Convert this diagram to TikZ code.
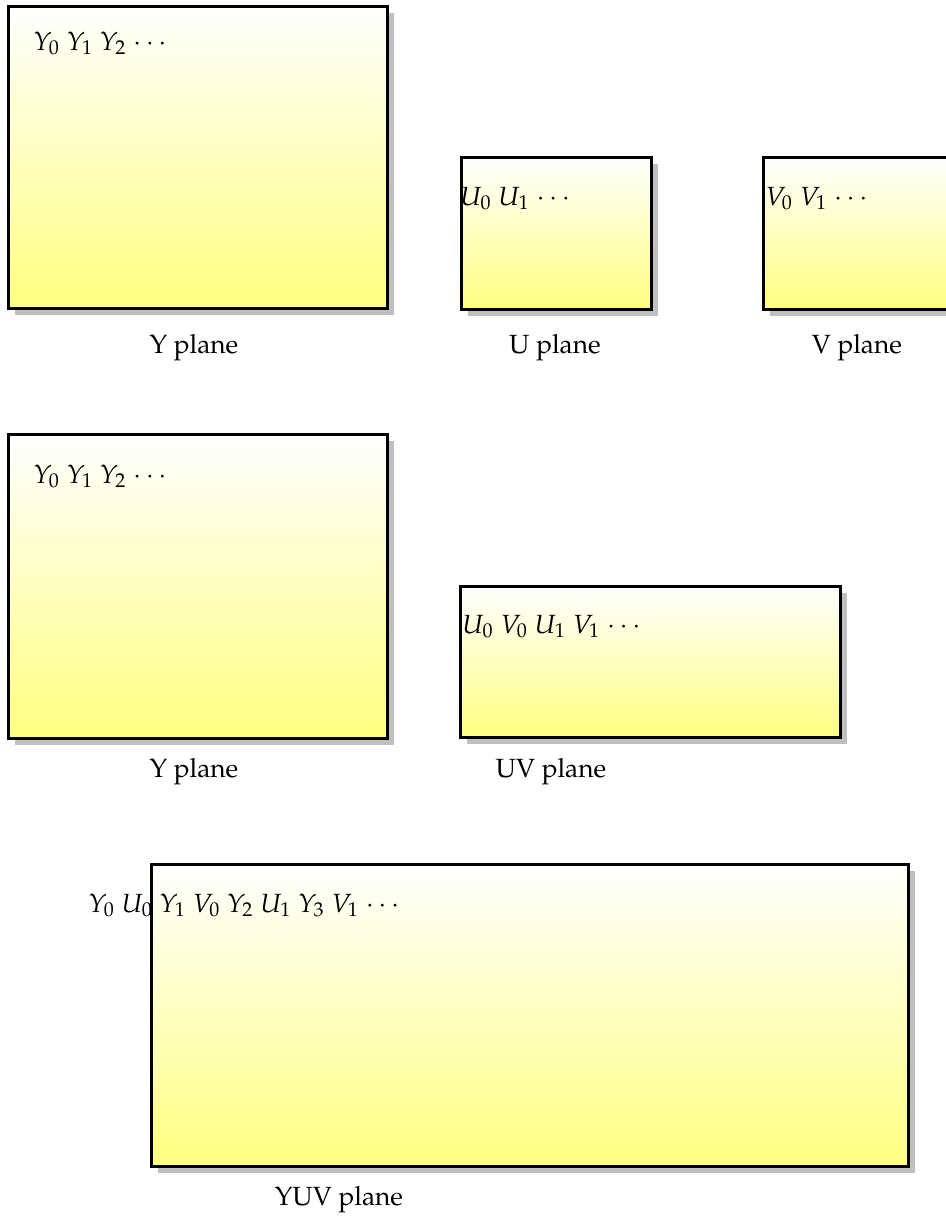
\documentclass[tikz,border=0pt]{standalone}
\usepackage[T1]{fontenc}
\usepackage{mathpazo}
\usepackage{tikz}
\usetikzlibrary{shadows}
\definecolor{planeYellow}{HTML}{FFFF80}
\definecolor{shadowGray}{HTML}{BFBFBF}

\begin{document}
\begin{tikzpicture}[x=0.38pt,y=-0.38pt,
    plane/.style={draw=black,line width=1.15pt,top color=white,bottom color=planeYellow,
      anchor=north west,inner sep=0pt,
      drop shadow={shadow xshift=2.5pt,shadow yshift=-2.5pt,fill=shadowGray,opacity=1}},
    sampletext/.style={anchor=base west,inner sep=0pt},
    caption/.style={anchor=base,inner sep=0pt}]
    \useasboundingbox (0,0) rectangle (946,1218);
    % planar: three planes
    \node[plane,minimum width=144pt,minimum height=114.8pt] (ybox) at (7,5) {};
    \node[plane,minimum width=72.2pt,minimum height=57.8pt] (ubox) at (460,156) {};
    \node[plane,minimum width=72.2pt,minimum height=57.8pt] (vbox) at (762,156) {};
    \node[sampletext] (ysamp) at (33,50) {$Y_0$ $Y_1$ $Y_2$ $\cdots$};
    \node[sampletext] (usamp) at (460,205) {$U_0$ $U_1$ $\cdots$};
    \node[sampletext] (vsamp) at (765,205) {$V_0$ $V_1$ $\cdots$};
    \node[caption] (ycap) at (194,353) {Y plane};
    \node[caption] (ucap) at (555,353) {U plane};
    \node[caption] (vcap) at (857,353) {V plane};
    % semi-planar
    \node[plane,minimum width=144pt,minimum height=115.5pt] (ybox2) at (7,433) {};
    \node[plane,minimum width=144.4pt,minimum height=57.4pt] (uvbox) at (459,585) {};
    \node[sampletext] (ysamp2) at (33,483) {$Y_0$ $Y_1$ $Y_2$ $\cdots$};
    \node[sampletext] (uvsamp) at (462,633) {$U_0$ $V_0$ $U_1$ $V_1$ $\cdots$};
    \node[caption] (ycap2) at (194,777) {Y plane};
    \node[caption] (uvcap) at (551,777) {UV plane};
    % packed
    \node[plane,minimum width=287.7pt,minimum height=114.8pt] (yuvbox) at (150,863) {};
    \node[sampletext] (yuvsamp) at (88,912)
      {$Y_0$ $U_0$ $Y_1$ $V_0$ $Y_2$ $U_1$ $Y_3$ $V_1$ $\cdots$};
    \node[caption] (yuvcap) at (339,1205) {YUV plane};
  \end{tikzpicture}
\end{document}
